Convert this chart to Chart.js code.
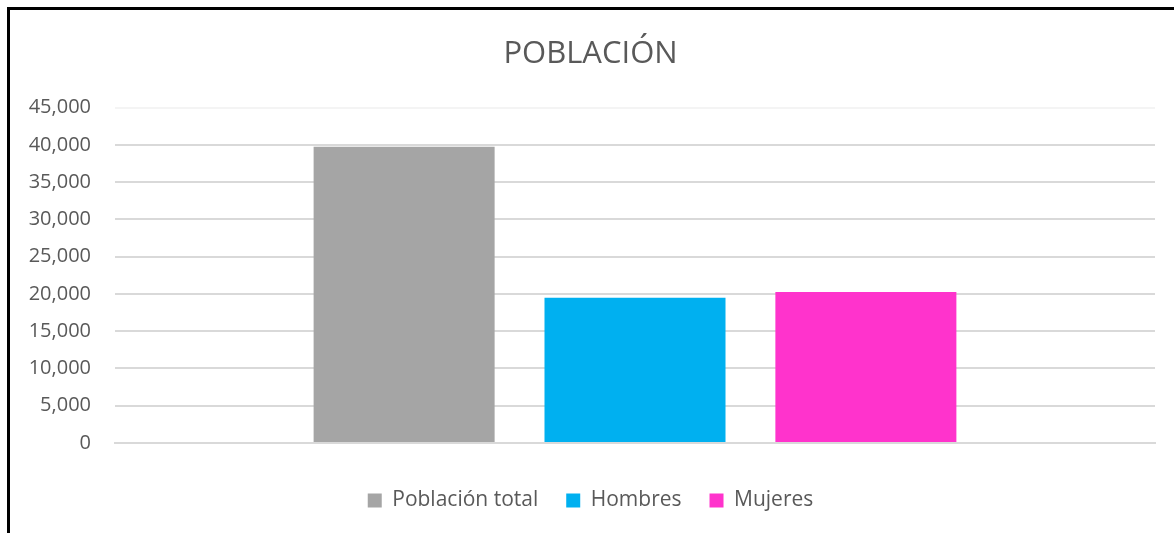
<!DOCTYPE html>
<html>
<head>
<meta charset="utf-8">
<script src="https://cdn.jsdelivr.net/npm/chart.js@4"></script>
<style>
    html, body { margin: 0; padding: 0; background: #fff; overflow: hidden; }
    #frame {
        position: absolute;
        left: 7px;
        top: 7px;
        width: 1167px;
        height: 526px;
        border-left: 3px solid #000;
        border-top: 3px solid #000;
    }
    #poblacion { display: block; }
</style>
</head>
<body>
<div id="frame"><canvas id="poblacion" width="1164" height="523"></canvas></div>
<script>
const categories = [''];
const series_names = ['Población total', 'Hombres', 'Mujeres'];
const series_values = [[39760], [19480], [20280]];
const series_colors = ['#a5a5a5', '#00b0f0', '#ff33cc'];
const y_ticks = [0, 5000, 10000, 15000, 20000, 25000, 30000, 35000, 40000, 45000];

const font_family = '"Open Sans", "Noto Sans", sans-serif';

const datasets = series_names.map((name, index) => ({
    label: name,
    data: series_values[index],
    backgroundColor: series_colors[index],
    categoryPercentage: 0.666,
    barPercentage: 0.784
}));

const bar_config = {
    type: 'bar',
    data: { labels: categories, datasets },
    options: {
        responsive: false,
        animation: false,
        layout: {
            padding: { left: 16, right: 19, top: 0, bottom: 12 }
        },
        plugins: {
            title: {
                display: true,
                text: 'POBLACIÓN',
                color: '#595959',
                font: { family: font_family, size: 31, weight: 'normal' },
                padding: { top: 25.5, bottom: 35 }
            },
            legend: {
                position: 'bottom',
                labels: {
                    color: '#595959',
                    font: { family: font_family, size: 21 },
                    boxWidth: 14,
                    boxHeight: 14,
                    padding: 28
                }
            },
            tooltip: { enabled: false }
        },
        scales: {
            x: {
                grid: { display: false },
                border: { display: true, color: '#d9d9d9', width: 2 },
                ticks: { display: false },
                afterFit: scale => { scale.height = 19; }
            },
            y: {
                min: y_ticks[0],
                max: y_ticks[y_ticks.length - 1],
                afterBuildTicks: scale => {
                    scale.ticks = y_ticks.map(v => ({ value: v }));
                },
                afterFit: scale => { scale.width = 89; },
                grid: {
                    drawTicks: false,
                    lineWidth: 2,
                    color: ctx => ctx.tick && ctx.tick.value === 45000 ? '#f4f4f4' : '#d9d9d9'
                },
                border: { display: false },
                ticks: {
                    padding: 24,
                    color: '#595959',
                    font: { family: font_family, size: 20 },
                    callback: v => v.toLocaleString('en-US')
                }
            }
        }
    }
};

new Chart(document.getElementById('poblacion'), bar_config);
</script>
</body>
</html>
